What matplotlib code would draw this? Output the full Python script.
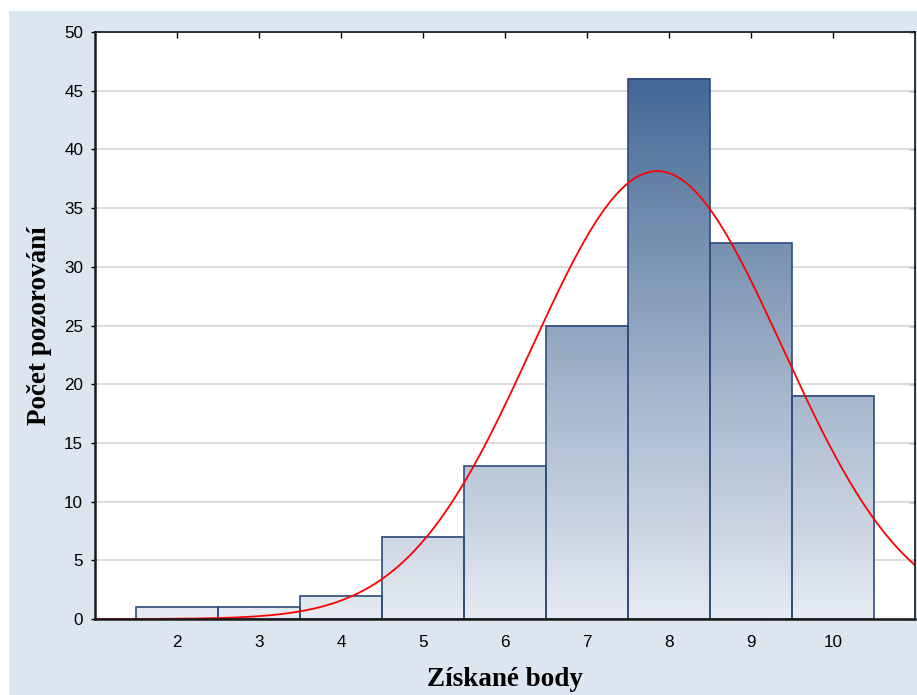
import numpy as np
import matplotlib
matplotlib.use("Agg")
import matplotlib.pyplot as plt
from matplotlib.patches import Rectangle
from matplotlib.colors import LinearSegmentedColormap

# ---- data ----
scores = [2, 3, 4, 5, 6, 7, 8, 9, 10]
counts = [1, 1, 2, 7, 13, 25, 46, 32, 19]
xticks = [2, 3, 4, 5, 6, 7, 8, 9, 10]
yticks = [0, 5, 10, 15, 20, 25, 30, 35, 40, 45, 50]
xlabel = "Získané body"
ylabel = "Počet pozorování"

W, H = 917, 695
fig = plt.figure(figsize=(W / 100, H / 100), dpi=100, facecolor="white")
fig.patches.append(Rectangle((9 / W, 0), 1 - 9 / W, (H - 11) / H,
                             transform=fig.transFigure, facecolor="#dce6f1",
                             edgecolor="none", zorder=-10))

ax = fig.add_axes([95 / W, 1 - 619 / H, (915 - 95) / W, (619 - 32) / H])
ax.set_facecolor("white")
ax.set_xlim(1, 11)
ax.set_ylim(0, 50)

# gridlines
ax.set_yticks(yticks)
ax.set_xticks(xticks)
ax.yaxis.grid(True, color="#d9d9d9", linewidth=1.3, zorder=0)
ax.set_axisbelow(True)

# gradient colormap (absolute in y)
cmap = LinearSegmentedColormap.from_list(
    "g", [(0.0, "#e7ecf3"), (7 / 46, "#cdd6e3"), (13 / 46, "#bac7d9"),
          (19 / 46, "#a7b7cd"), (25 / 46, "#90a5c1"), (32 / 46, "#7891b1"),
          (1.0, "#436897")])
ymax = max(counts)
for s, c in zip(scores, counts):
    x0, x1 = s - 0.5, s + 0.5
    grad = np.linspace(0, c, 200)[:, None]
    ax.imshow(grad, extent=(x0, x1, 0, c), origin="lower", aspect="auto",
              cmap=cmap, vmin=0, vmax=ymax, zorder=2, interpolation="bilinear")
ax.bar(scores, counts, width=1.0, facecolor="none",
       edgecolor="#2e4b7b", linewidth=1.2, zorder=3)

# fitted normal curve from data
n = np.array(counts, dtype=float)
xs = np.array(scores, dtype=float)
N = n.sum()
mu = (n * xs).sum() / N
sd = np.sqrt((n * (xs - mu) ** 2).sum() / (N - 1))
xx = np.linspace(1, 11, 500)
yy = N / (sd * np.sqrt(2 * np.pi)) * np.exp(-0.5 * ((xx - mu) / sd) ** 2)
ax.plot(xx, yy, color="#ff0000", linewidth=1.3, zorder=4)

# spines and ticks
for side in ["top", "right"]:
    ax.spines[side].set_linewidth(1.1)
    ax.spines[side].set_color("black")
for side in ["left", "bottom"]:
    ax.spines[side].set_linewidth(1.8)
    ax.spines[side].set_color("#1a1a1a")
for sp in ax.spines.values():
    sp.set_zorder(5)

ax.tick_params(axis="x", direction="in", top=True, bottom=True, length=4,
               width=1, pad=11.5, labelsize=12.3)
ax.tick_params(axis="y", which="both", left=True, right=False, direction="out",
               length=3, width=1, pad=5.5, labelsize=12.3)
ax2 = ax.secondary_yaxis("right")
ax2.set_yticks(yticks)
ax2.tick_params(direction="in", length=4, width=1, labelright=False)
ax2.spines["right"].set_visible(False)

for lab in ax.get_xticklabels() + ax.get_yticklabels():
    lab.set_fontfamily("Liberation Sans")

ax.set_xlabel(xlabel, fontfamily="Liberation Serif", fontweight="bold",
              fontsize=19.5, labelpad=12)
ax.set_ylabel(ylabel, fontfamily="Liberation Serif", fontweight="bold",
              fontsize=19.5, labelpad=9)

fig.savefig("out.png", dpi=100, facecolor="white")
